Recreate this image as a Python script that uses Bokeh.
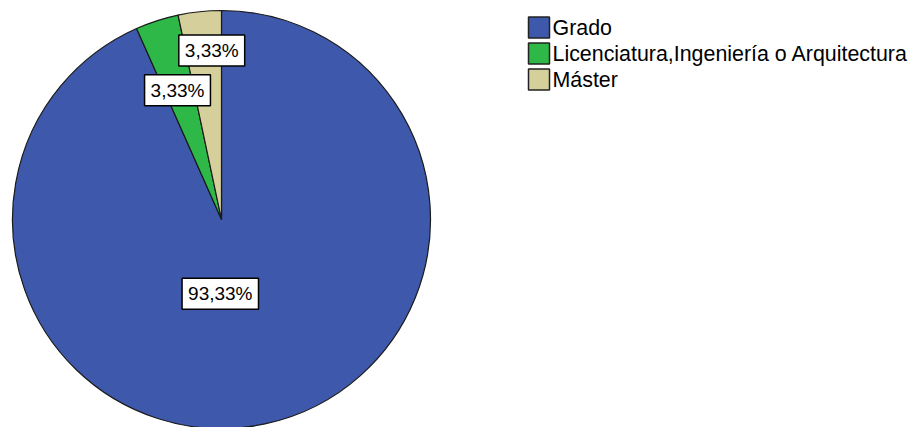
import numpy as np
from bokeh.plotting import figure
from bokeh.models import Range1d, ColumnDataSource
from bokeh.core.properties import value
from bokeh.embed import file_html
from bokeh.resources import INLINE

# ---- data ----
categories = ["Grado", "Licenciatura,Ingeniería o Arquitectura", "Máster"]
percent = [93.33, 3.33, 3.33]
labels = ["93,33%", "3,33%", "3,33%"]

# ---- styles ----
colors = ["#3E58AC", "#2EB848", "#D5CF9B"]
label_r = [76, 136, 170]
label_dx = [-17, -2, 8]

W, H = 915, 427
p = figure(width=W, height=H, output_backend="svg", toolbar_location=None,
           x_range=Range1d(0, W), y_range=Range1d(0, H),
           min_border=0, x_axis_location=None, y_axis_location=None)
p.grid.visible = False
p.outline_line_color = None
p.background_fill_color = "white"

# page coords -> data: y = H - page_y
cx, cy, R = 221, H - 219, 209
vals = np.array(percent, dtype=float)
frac = vals / vals.sum()
cum = np.concatenate([[0], np.cumsum(frac)])
start = np.deg2rad(90 - cum[:-1] * 360)
end = np.deg2rad(90 - cum[1:] * 360)
mid = (start + end) / 2

src = ColumnDataSource(dict(start=start, end=end, color=colors))
p.wedge(x=cx, y=cy, radius=R, start_angle="start", end_angle="end",
        direction="clock", fill_color="color", line_color="#1a1a1a",
        line_width=1.2, source=src)

lx = [cx + r * np.cos(a) + dx for r, a, dx in zip(label_r, mid, label_dx)]
ly = [cy + r * np.sin(a) for r, a in zip(label_r, mid)]
p.text(x=lx, y=ly, text=labels, text_align="center", text_baseline="middle",
       text_font=value("Liberation Sans"), text_font_size="19px",
       text_color="black", background_fill_color="white",
       border_line_color="black", border_line_width=1.5, padding=(6, 5))

# legend
ly0 = [H - 27, H - 53, H - 79]
sq = 21
p.rect(x=[538.5] * 3, y=ly0, width=sq, height=sq, fill_color=colors,
       line_color="#222222", line_width=1.5)
p.text(x=[552] * 3, y=ly0, text=categories, text_align="left",
       text_baseline="middle", text_font=value("Liberation Sans"),
       text_font_size="21.4px", text_color="black")

open("out.html", "w").write(file_html(p, INLINE))
